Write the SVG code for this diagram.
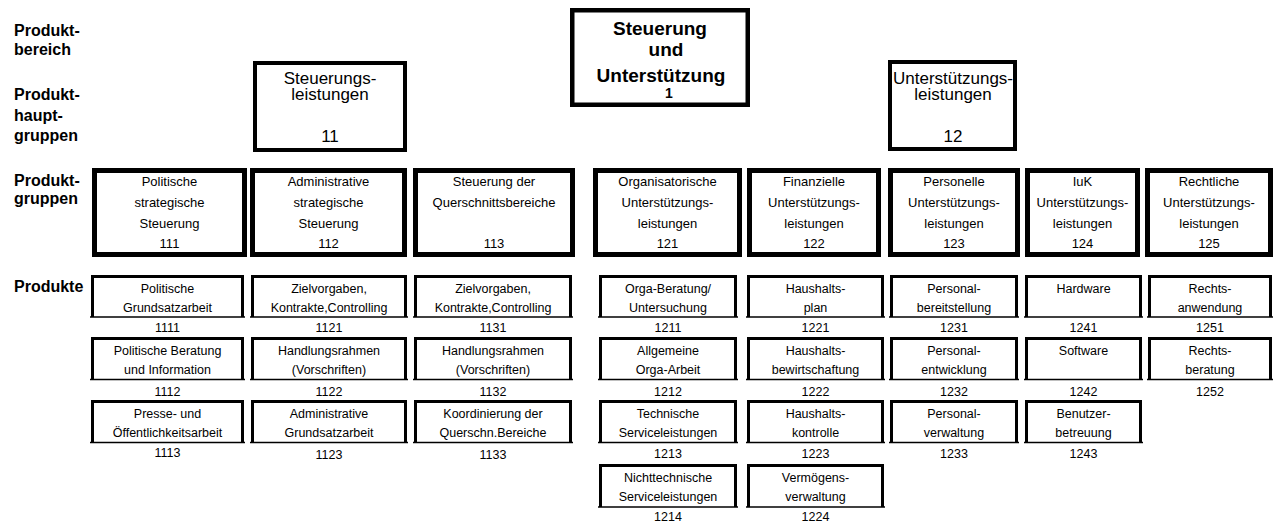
<svg xmlns="http://www.w3.org/2000/svg" width="1276" height="524" viewBox="0 0 1276 524">
<style>
text{font-family:"Liberation Sans",Arial,sans-serif;fill:#000;text-anchor:middle}
.lbl{font-weight:bold;font-size:16px;text-anchor:start}
.top{font-weight:bold;font-size:19px}
.topn{font-weight:bold;font-size:14px}
.hg{font-size:17px}
.g{font-size:13px}
.p{font-size:12.5px}
.b1{fill:#fff;stroke:#000;stroke-width:4.5}
.b2{fill:#fff;stroke:#000;stroke-width:4}
.bg{fill:#fff;stroke:#000;stroke-width:5}
.pf{fill:none;stroke:#000;stroke-width:3}
.pl{stroke:#000;stroke-width:1.3}
</style>
<rect width="1276" height="524" fill="#fff"/>
<g id="labels">
<text class="lbl" x="14" y="36">Produkt-</text>
<text class="lbl" x="14" y="55">bereich</text>
<text class="lbl" x="14" y="100">Produkt-</text>
<text class="lbl" x="14" y="121">haupt-</text>
<text class="lbl" x="14" y="141">gruppen</text>
<text class="lbl" x="14" y="186">Produkt-</text>
<text class="lbl" x="14" y="204">gruppen</text>
<text class="lbl" x="14" y="292">Produkte</text>
</g>
<g id="n1">
<rect class="b1" x="572.25" y="10.25" width="175.5" height="94.5"/>
<text class="top" x="660" y="35">Steuerung</text>
<text class="top" x="666" y="56">und</text>
<text class="top" x="661" y="82">Unterstützung</text>
<text class="topn" x="669" y="98">1</text>
</g>
<g id="n11">
<rect class="b2" x="255" y="63" width="150" height="87"/>
<text class="hg" x="330" y="83.5">Steuerungs-</text>
<text class="hg" x="330" y="100">leistungen</text>
<text class="hg" x="330" y="142">11</text>
</g>
<g id="n12">
<rect class="b2" x="890" y="62" width="125" height="87"/>
<text class="hg" x="953" y="83.5">Unterstützungs-</text>
<text class="hg" x="953" y="100">leistungen</text>
<text class="hg" x="953" y="142">12</text>
</g>
<g id="n111">
<rect class="bg" x="94.5" y="170.5" width="150" height="84"/>
<text class="g" x="169.5" y="186">Politische</text>
<text class="g" x="169.5" y="207">strategische</text>
<text class="g" x="169.5" y="228">Steuerung</text>
<text class="g" x="169.5" y="248">111</text>
</g>
<g id="n112">
<rect class="bg" x="252.5" y="170.5" width="152" height="84"/>
<text class="g" x="328.5" y="186">Administrative</text>
<text class="g" x="328.5" y="207">strategische</text>
<text class="g" x="328.5" y="228">Steuerung</text>
<text class="g" x="328.5" y="248">112</text>
</g>
<g id="n113">
<rect class="bg" x="415.5" y="170.5" width="157" height="84"/>
<text class="g" x="494" y="186">Steuerung der</text>
<text class="g" x="494" y="207">Querschnittsbereiche</text>
<text class="g" x="494" y="248">113</text>
</g>
<g id="n121">
<rect class="bg" x="595.5" y="170.5" width="144" height="84"/>
<text class="g" x="667.5" y="186">Organisatorische</text>
<text class="g" x="667.5" y="207">Unterstützungs-</text>
<text class="g" x="667.5" y="228">leistungen</text>
<text class="g" x="667.5" y="248">121</text>
</g>
<g id="n122">
<rect class="bg" x="749.5" y="170.5" width="129" height="84"/>
<text class="g" x="814" y="186">Finanzielle</text>
<text class="g" x="814" y="207">Unterstützungs-</text>
<text class="g" x="814" y="228">leistungen</text>
<text class="g" x="814" y="248">122</text>
</g>
<g id="n123">
<rect class="bg" x="890.5" y="170.5" width="127" height="84"/>
<text class="g" x="954" y="186">Personelle</text>
<text class="g" x="954" y="207">Unterstützungs-</text>
<text class="g" x="954" y="228">leistungen</text>
<text class="g" x="954" y="248">123</text>
</g>
<g id="n124">
<rect class="bg" x="1027.5" y="170.5" width="110" height="84"/>
<text class="g" x="1082.5" y="186">IuK</text>
<text class="g" x="1082.5" y="207">Unterstützungs-</text>
<text class="g" x="1082.5" y="228">leistungen</text>
<text class="g" x="1082.5" y="248">124</text>
</g>
<g id="n125">
<rect class="bg" x="1147.5" y="170.5" width="123" height="84"/>
<text class="g" x="1209" y="186">Rechtliche</text>
<text class="g" x="1209" y="207">Unterstützungs-</text>
<text class="g" x="1209" y="228">leistungen</text>
<text class="g" x="1209" y="248">125</text>
</g>
<!-- Produkte column 1 -->
<g id="n1111"><path class="pf" d="M92.5 317V276.5H242.5V317"/><line class="pl" x1="90" y1="317" x2="245" y2="317"/>
<text class="p" x="167.5" y="293">Politische</text><text class="p" x="167.5" y="312">Grundsatzarbeit</text><text class="p" x="167.5" y="332">1111</text></g>
<g id="n1112"><path class="pf" d="M92.5 379.5V338.5H242.5V379.5"/><line class="pl" x1="90" y1="379.5" x2="245" y2="379.5"/>
<text class="p" x="167.5" y="355">Politische Beratung</text><text class="p" x="167.5" y="374">und Information</text><text class="p" x="167.5" y="396">1112</text></g>
<g id="n1113"><path class="pf" d="M92.5 442.5V401.5H242.5V442.5"/><line class="pl" x1="90" y1="442.5" x2="245" y2="442.5"/>
<text class="p" x="167.5" y="418">Presse- und</text><text class="p" x="167.5" y="437">Öffentlichkeitsarbeit</text><text class="p" x="167.5" y="457">1113</text></g>
<!-- column 2 -->
<g id="n1121"><path class="pf" d="M252.5 317V276.5H405.5V317"/><line class="pl" x1="250" y1="317" x2="408" y2="317"/>
<text class="p" x="329" y="293">Zielvorgaben,</text><text class="p" x="329" y="312">Kontrakte,Controlling</text><text class="p" x="329" y="332">1121</text></g>
<g id="n1122"><path class="pf" d="M252.5 379.5V338.5H405.5V379.5"/><line class="pl" x1="250" y1="379.5" x2="408" y2="379.5"/>
<text class="p" x="329" y="355">Handlungsrahmen</text><text class="p" x="329" y="374">(Vorschriften)</text><text class="p" x="329" y="396">1122</text></g>
<g id="n1123"><path class="pf" d="M252.5 442.5V401.5H405.5V442.5"/><line class="pl" x1="250" y1="442.5" x2="408" y2="442.5"/>
<text class="p" x="329" y="418">Administrative</text><text class="p" x="329" y="437">Grundsatzarbeit</text><text class="p" x="329" y="459">1123</text></g>
<!-- column 3 -->
<g id="n1131"><path class="pf" d="M415.5 317V276.5H570.5V317"/><line class="pl" x1="413" y1="317" x2="573" y2="317"/>
<text class="p" x="493" y="293">Zielvorgaben,</text><text class="p" x="493" y="312">Kontrakte,Controlling</text><text class="p" x="493" y="332">1131</text></g>
<g id="n1132"><path class="pf" d="M415.5 379.5V338.5H570.5V379.5"/><line class="pl" x1="413" y1="379.5" x2="573" y2="379.5"/>
<text class="p" x="493" y="355">Handlungsrahmen</text><text class="p" x="493" y="374">(Vorschriften)</text><text class="p" x="493" y="396">1132</text></g>
<g id="n1133"><path class="pf" d="M415.5 442.5V401.5H570.5V442.5"/><line class="pl" x1="413" y1="442.5" x2="573" y2="442.5"/>
<text class="p" x="493" y="418">Koordinierung der</text><text class="p" x="493" y="437">Querschn.Bereiche</text><text class="p" x="493" y="459">1133</text></g>
<!-- column 4 -->
<g id="n1211"><path class="pf" d="M600.5 317V276.5H735.5V317"/><line class="pl" x1="598" y1="317" x2="738" y2="317"/>
<text class="p" x="668" y="293">Orga-Beratung/</text><text class="p" x="668" y="312">Untersuchung</text><text class="p" x="668" y="332">1211</text></g>
<g id="n1212"><path class="pf" d="M600.5 379.5V338.5H735.5V379.5"/><line class="pl" x1="598" y1="379.5" x2="738" y2="379.5"/>
<text class="p" x="668" y="355">Allgemeine</text><text class="p" x="668" y="374">Orga-Arbeit</text><text class="p" x="668" y="396">1212</text></g>
<g id="n1213"><path class="pf" d="M600.5 442.5V401.5H735.5V442.5"/><line class="pl" x1="598" y1="442.5" x2="738" y2="442.5"/>
<text class="p" x="668" y="418">Technische</text><text class="p" x="668" y="437">Serviceleistungen</text><text class="p" x="668" y="458">1213</text></g>
<g id="n1214"><path class="pf" d="M600.5 507V465.5H735.5V507"/><line class="pl" x1="598" y1="507" x2="738" y2="507"/>
<text class="p" x="668" y="482">Nichttechnische</text><text class="p" x="668" y="501">Serviceleistungen</text><text class="p" x="668" y="521">1214</text></g>
<!-- column 5 -->
<g id="n1221"><path class="pf" d="M748.5 317V276.5H882.5V317"/><line class="pl" x1="746" y1="317" x2="885" y2="317"/>
<text class="p" x="815.5" y="293">Haushalts-</text><text class="p" x="815.5" y="312">plan</text><text class="p" x="815.5" y="332">1221</text></g>
<g id="n1222"><path class="pf" d="M748.5 379.5V338.5H882.5V379.5"/><line class="pl" x1="746" y1="379.5" x2="885" y2="379.5"/>
<text class="p" x="815.5" y="355">Haushalts-</text><text class="p" x="815.5" y="374">bewirtschaftung</text><text class="p" x="815.5" y="396">1222</text></g>
<g id="n1223"><path class="pf" d="M748.5 442.5V401.5H882.5V442.5"/><line class="pl" x1="746" y1="442.5" x2="885" y2="442.5"/>
<text class="p" x="815.5" y="418">Haushalts-</text><text class="p" x="815.5" y="437">kontrolle</text><text class="p" x="815.5" y="458">1223</text></g>
<g id="n1224"><path class="pf" d="M748.5 507V465.5H882.5V507"/><line class="pl" x1="746" y1="507" x2="885" y2="507"/>
<text class="p" x="815.5" y="482">Vermögens-</text><text class="p" x="815.5" y="501">verwaltung</text><text class="p" x="815.5" y="521">1224</text></g>
<!-- column 6 -->
<g id="n1231"><path class="pf" d="M891.5 317V276.5H1016.5V317"/><line class="pl" x1="889" y1="317" x2="1019" y2="317"/>
<text class="p" x="954" y="293">Personal-</text><text class="p" x="954" y="312">bereitstellung</text><text class="p" x="954" y="332">1231</text></g>
<g id="n1232"><path class="pf" d="M891.5 379.5V338.5H1016.5V379.5"/><line class="pl" x1="889" y1="379.5" x2="1019" y2="379.5"/>
<text class="p" x="954" y="355">Personal-</text><text class="p" x="954" y="374">entwicklung</text><text class="p" x="954" y="396">1232</text></g>
<g id="n1233"><path class="pf" d="M891.5 442.5V401.5H1016.5V442.5"/><line class="pl" x1="889" y1="442.5" x2="1019" y2="442.5"/>
<text class="p" x="954" y="418">Personal-</text><text class="p" x="954" y="437">verwaltung</text><text class="p" x="954" y="458">1233</text></g>
<!-- column 7 -->
<g id="n1241"><path class="pf" d="M1026.5 317V276.5H1140.5V317"/><line class="pl" x1="1024" y1="317" x2="1143" y2="317"/>
<text class="p" x="1083.5" y="293">Hardware</text><text class="p" x="1083.5" y="332">1241</text></g>
<g id="n1242"><path class="pf" d="M1026.5 379.5V338.5H1140.5V379.5"/><line class="pl" x1="1024" y1="379.5" x2="1143" y2="379.5"/>
<text class="p" x="1083.5" y="355">Software</text><text class="p" x="1083.5" y="396">1242</text></g>
<g id="n1243"><path class="pf" d="M1026.5 442.5V401.5H1140.5V442.5"/><line class="pl" x1="1024" y1="442.5" x2="1143" y2="442.5"/>
<text class="p" x="1083.5" y="418">Benutzer-</text><text class="p" x="1083.5" y="437">betreuung</text><text class="p" x="1083.5" y="458">1243</text></g>
<!-- column 8 -->
<g id="n1251"><path class="pf" d="M1149.5 317V276.5H1270.5V317"/><line class="pl" x1="1147" y1="317" x2="1273" y2="317"/>
<text class="p" x="1210" y="293">Rechts-</text><text class="p" x="1210" y="312">anwendung</text><text class="p" x="1210" y="332">1251</text></g>
<g id="n1252"><path class="pf" d="M1149.5 379.5V338.5H1270.5V379.5"/><line class="pl" x1="1147" y1="379.5" x2="1273" y2="379.5"/>
<text class="p" x="1210" y="355">Rechts-</text><text class="p" x="1210" y="374">beratung</text><text class="p" x="1210" y="396">1252</text></g>
<g id="connectors"/>
</svg>
